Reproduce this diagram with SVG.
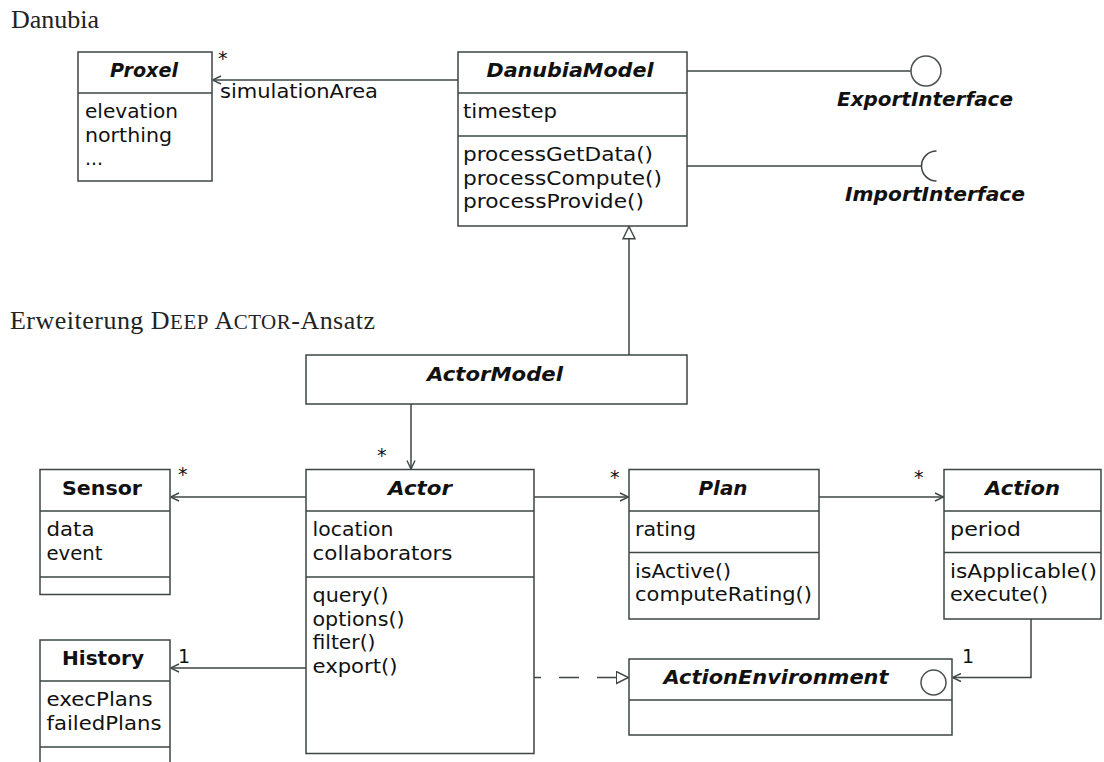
<svg xmlns="http://www.w3.org/2000/svg" width="1104" height="762" viewBox="0 0 1104 762">
<style>
.box{fill:#fff;stroke:#3d4545;stroke-width:1.5}
.ln{stroke:#3d4545;stroke-width:1.5;fill:none}
.t{font-family:"DejaVu Sans",sans-serif;font-size:19px;fill:#111}
.ti{font-weight:bold;font-style:italic;text-anchor:middle}
.tb{font-weight:bold;text-anchor:middle}
.h{font-family:"Liberation Serif","Times New Roman",serif;font-size:26px;fill:#222}
.sym{fill:#fff;stroke:#4a5050;stroke-width:1.5}
</style>
<defs>
<marker id="open" viewBox="0 0 10 10" refX="10" refY="5" markerWidth="10" markerHeight="10" markerUnits="userSpaceOnUse" orient="auto">
<path d="M1.5,1 L10,5 L1.5,9" fill="none" stroke="#3d4545" stroke-width="1.4"/>
</marker>
<marker id="tri" viewBox="0 0 14 14" refX="13" refY="7" markerWidth="14" markerHeight="14" markerUnits="userSpaceOnUse" orient="auto">
<path d="M0.8,1 L13,7 L0.8,13 Z" fill="#fff" stroke="#3d4545" stroke-width="1.4"/>
</marker>
</defs>

<text class="h" x="11" y="28">Danubia</text>
<text class="h" x="10" y="329" textLength="365" lengthAdjust="spacing">Erweiterung D<tspan font-size="21">EEP</tspan> A<tspan font-size="21">CTOR</tspan>-Ansatz</text>

<g id="connectors">
<path class="ln" d="M458,80 H212.5" marker-end="url(#open)"/>
<path class="ln" d="M687,71 H911"/>
<path class="ln" d="M687,166 H921"/>
<path class="ln" d="M629,355 V226.5" marker-end="url(#tri)"/>
<path class="ln" d="M411,404 V469" marker-end="url(#open)"/>
<path class="ln" d="M306,497 H170.5" marker-end="url(#open)"/>
<path class="ln" d="M306,668 H170.5" marker-end="url(#open)"/>
<path class="ln" d="M534,497 H628.5" marker-end="url(#open)"/>
<path class="ln" d="M819,497 H943.5" marker-end="url(#open)"/>
<path class="ln" d="M1031,619 V677.5 H952.5" marker-end="url(#open)"/>
<path class="ln" d="M534,677.5 H628.5" stroke-dasharray="20 18" stroke-dashoffset="13" marker-end="url(#tri)"/>
<text class="t" x="218" y="65" font-size="17">*</text>
<text class="t" x="220" y="98" textLength="158" lengthAdjust="spacingAndGlyphs">simulationArea</text>
<text class="t" x="377" y="462" font-size="17">*</text>
<text class="t" x="178" y="481" font-size="17">*</text>
<text class="t" x="610" y="484" font-size="17">*</text>
<text class="t" x="914" y="484" font-size="17">*</text>
<text class="t" x="178" y="663">1</text>
<text class="t" x="962" y="663">1</text>
</g>

<g id="Proxel">
<rect class="box" x="78" y="52" width="134" height="129"/>
<path class="ln" d="M78,93 H212"/>
<text class="t ti" x="144" y="77" textLength="68" lengthAdjust="spacingAndGlyphs">Proxel</text>
<text class="t" x="85" y="118" textLength="93" lengthAdjust="spacingAndGlyphs">elevation</text>
<text class="t" x="85" y="141.5" textLength="87" lengthAdjust="spacingAndGlyphs">northing</text>
<text class="t" x="85" y="165">...</text>
</g>

<g id="DanubiaModel">
<rect class="box" x="458" y="52" width="229" height="174"/>
<path class="ln" d="M458,93 H687 M458,136 H687"/>
<text class="t ti" x="570" y="77" textLength="167" lengthAdjust="spacingAndGlyphs">DanubiaModel</text>
<text class="t" x="463" y="118" textLength="94" lengthAdjust="spacingAndGlyphs">timestep</text>
<text class="t" x="463" y="161" textLength="190" lengthAdjust="spacingAndGlyphs">processGetData()</text>
<text class="t" x="463" y="184.5" textLength="199" lengthAdjust="spacingAndGlyphs">processCompute()</text>
<text class="t" x="463" y="208" textLength="181" lengthAdjust="spacingAndGlyphs">processProvide()</text>
</g>

<g id="ExportInterface">
<circle class="sym" cx="926" cy="71" r="15"/>
<text class="t ti" x="925" y="106" textLength="176" lengthAdjust="spacingAndGlyphs">ExportInterface</text>
</g>

<g id="ImportInterface">
<path class="ln" d="M936.5,151 A15,15 0 0 0 936.5,181" stroke="#4a5050"/>
<text class="t ti" x="935" y="201" textLength="180" lengthAdjust="spacingAndGlyphs">ImportInterface</text>
</g>

<g id="ActorModel">
<rect class="box" x="306" y="355" width="381" height="49"/>
<text class="t ti" x="495" y="381" textLength="136" lengthAdjust="spacingAndGlyphs">ActorModel</text>
</g>

<g id="Sensor">
<rect class="box" x="40" y="469.5" width="130" height="125"/>
<path class="ln" d="M40,511 H170 M40,577 H170"/>
<text class="t tb" x="102" y="495" textLength="80" lengthAdjust="spacingAndGlyphs">Sensor</text>
<text class="t" x="46.5" y="536" textLength="48" lengthAdjust="spacingAndGlyphs">data</text>
<text class="t" x="46.5" y="559.5" textLength="56" lengthAdjust="spacingAndGlyphs">event</text>
</g>

<g id="History">
<rect class="box" x="40" y="640" width="130" height="130"/>
<path class="ln" d="M40,681 H170 M40,747 H170"/>
<text class="t tb" x="103" y="665" textLength="82" lengthAdjust="spacingAndGlyphs">History</text>
<text class="t" x="46.5" y="706" textLength="106" lengthAdjust="spacingAndGlyphs">execPlans</text>
<text class="t" x="46.5" y="729.5" textLength="115" lengthAdjust="spacingAndGlyphs">failedPlans</text>
</g>

<g id="Actor">
<rect class="box" x="306" y="469.5" width="228" height="284"/>
<path class="ln" d="M306,511 H534 M306,577 H534"/>
<text class="t ti" x="420" y="495" textLength="64" lengthAdjust="spacingAndGlyphs">Actor</text>
<text class="t" x="312.5" y="536" textLength="81" lengthAdjust="spacingAndGlyphs">location</text>
<text class="t" x="312.5" y="559.5" textLength="140" lengthAdjust="spacingAndGlyphs">collaborators</text>
<text class="t" x="312.5" y="602" textLength="76" lengthAdjust="spacingAndGlyphs">query()</text>
<text class="t" x="312.5" y="625.5" textLength="92" lengthAdjust="spacingAndGlyphs">options()</text>
<text class="t" x="312.5" y="649" textLength="63" lengthAdjust="spacingAndGlyphs">filter()</text>
<text class="t" x="312.5" y="672.5" textLength="85" lengthAdjust="spacingAndGlyphs">export()</text>
</g>

<g id="Plan">
<rect class="box" x="629" y="469.5" width="190" height="149.5"/>
<path class="ln" d="M629,511 H819 M629,552.5 H819"/>
<text class="t ti" x="723" y="495" textLength="49" lengthAdjust="spacingAndGlyphs">Plan</text>
<text class="t" x="635" y="536" textLength="61" lengthAdjust="spacingAndGlyphs">rating</text>
<text class="t" x="635" y="577.5" textLength="96" lengthAdjust="spacingAndGlyphs">isActive()</text>
<text class="t" x="635" y="601" textLength="177" lengthAdjust="spacingAndGlyphs">computeRating()</text>
</g>

<g id="Action">
<rect class="box" x="944" y="469.5" width="157" height="149.5"/>
<path class="ln" d="M944,511 H1101 M944,552.5 H1101"/>
<text class="t ti" x="1022.5" y="495" textLength="75" lengthAdjust="spacingAndGlyphs">Action</text>
<text class="t" x="950" y="536" textLength="71" lengthAdjust="spacingAndGlyphs">period</text>
<text class="t" x="950" y="577.5" textLength="147" lengthAdjust="spacingAndGlyphs">isApplicable()</text>
<text class="t" x="950" y="601" textLength="98" lengthAdjust="spacingAndGlyphs">execute()</text>
</g>

<g id="ActionEnvironment">
<rect class="box" x="629" y="659" width="323" height="76"/>
<path class="ln" d="M629,700 H952"/>
<text class="t ti" x="776" y="684" textLength="225" lengthAdjust="spacingAndGlyphs">ActionEnvironment</text>
<circle class="sym" cx="933.5" cy="682.5" r="12.5"/>
</g>
</svg>
